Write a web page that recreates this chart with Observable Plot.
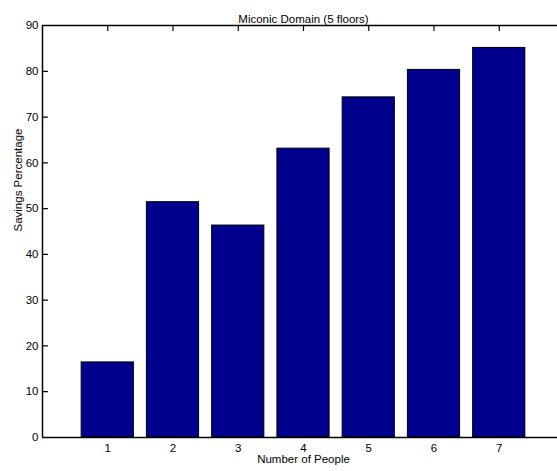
<!DOCTYPE html>
<html>
<head>
<meta charset="utf-8">
<script src="https://cdn.jsdelivr.net/npm/d3@7"></script>
<script src="https://cdn.jsdelivr.net/npm/@observablehq/plot@0.6"></script>
<style>
  html, body { margin: 0; padding: 0; background: #fff; }
  svg { overflow: hidden; }
</style>
</head>
<body>
<div id="chart"></div>
<script>
const people = [1, 2, 3, 4, 5, 6, 7];
const savings = [16.4, 51.4, 46.3, 63.1, 74.3, 80.3, 85.1];
const yTicks = [0, 10, 20, 30, 40, 50, 60, 70, 80, 90];
const xTicks = [1, 2, 3, 4, 5, 6, 7];
const title = "Miconic Domain (5 floors)";
const xLabel = "Number of People";
const yLabel = "Savings Percentage";

const data = people.map((p, i) => ({p, v: savings[i]}));
const lineShape = {draw(ctx, l) { ctx.moveTo(0, 0); ctx.lineTo(0, -l); }};
const font = "Liberation Sans, Arial, Helvetica, sans-serif";
const fs = 11.5;

const chart = Plot.plot({
  width: 557,
  height: 471,
  marginLeft: 42,
  marginRight: -7,
  marginTop: 25,
  marginBottom: 34,
  style: {fontFamily: font, fontSize: fs + "px", color: "#000", background: "#fff"},
  x: {domain: [0, 8], range: [42, 564]},
  y: {domain: [0, 90], range: [437, 25]},
  marks: [
    // inside ticks
    Plot.vector(yTicks, {x: 0, y: d => d, length: 5, rotate: 90, anchor: "start", shape: lineShape, stroke: "#000", strokeWidth: 1.2}),
    Plot.vector(yTicks, {x: 8, y: d => d, length: 5, rotate: 270, anchor: "start", shape: lineShape, stroke: "#000", strokeWidth: 1.2}),
    Plot.vector(xTicks, {x: d => d, y: 90, length: 5, rotate: 180, anchor: "start", shape: lineShape, stroke: "#000", strokeWidth: 1.2}),
    Plot.vector(xTicks, {x: d => d, y: 0, length: 5, rotate: 0, anchor: "start", shape: lineShape, stroke: "#000", strokeWidth: 1.2}),
    Plot.rectY(data, {x1: d => d.p - 0.4, x2: d => d.p + 0.4, y1: 0, y2: "v", fill: "#00008F", stroke: "#000", strokeWidth: 1}),
    // box
    Plot.ruleY([0, 90], {x1: 0, x2: 8, stroke: "#000", strokeWidth: 1.5}),
    Plot.ruleX([0, 8], {y1: 0, y2: 90, stroke: "#000", strokeWidth: 1.5}),
    Plot.axisY({ticks: yTicks, tickSize: 0, tickPadding: 4, label: null, fill: "#000", fontSize: fs}),
    Plot.axisX({ticks: xTicks, tickSize: 0, tickPadding: 6, label: null, fill: "#000", fontSize: fs}),
    Plot.text([title], {frameAnchor: "top", dy: -11, fill: "#000", fontSize: fs}),
    Plot.text([xLabel], {frameAnchor: "bottom", dy: 25, fill: "#000", fontSize: fs}),
    Plot.text([yLabel], {frameAnchor: "left", dx: -24, rotate: -90, fill: "#000", fontSize: fs})
  ]
});
document.getElementById("chart").appendChild(chart);
</script>
</body>
</html>
